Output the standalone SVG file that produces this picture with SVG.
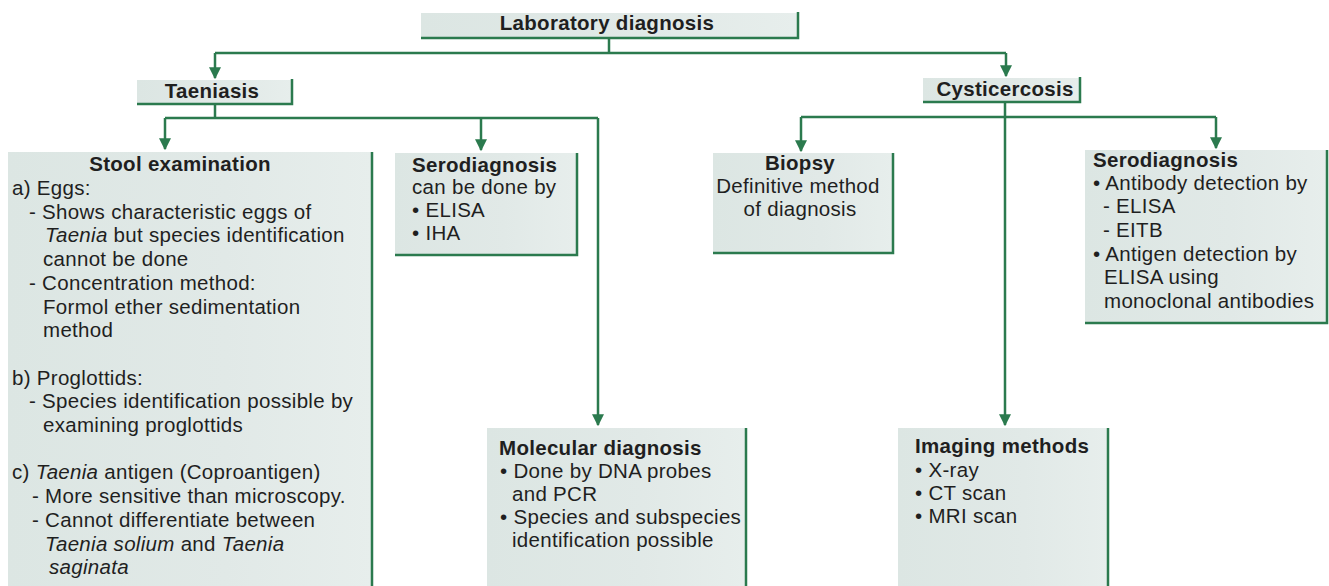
<svg xmlns="http://www.w3.org/2000/svg" width="1329" height="586" viewBox="0 0 1329 586">
<style>
text{font-family:"Liberation Sans",Arial,Helvetica,sans-serif;font-size:20.5px;fill:#1f1f1f;letter-spacing:0.3px}
.b{font-weight:bold}
.i{font-style:italic}
.c{text-anchor:middle}
.box{fill:url(#g)}
.bd{fill:none;stroke:#2b7a4e;stroke-width:2.5}
.cn{fill:none;stroke:#2b7a4e;stroke-width:2.5}
.ar{marker-end:url(#ah)}
</style>
<defs>
<linearGradient id="g" x1="0" y1="0" x2="1" y2="0">
<stop offset="0" stop-color="#dce6e3"/>
<stop offset="0.6" stop-color="#e1e9e7"/>
<stop offset="1" stop-color="#e7eeec"/>
</linearGradient>
<marker id="ah" viewBox="0 0 10 10" refX="9" refY="5" markerWidth="12" markerHeight="12" markerUnits="userSpaceOnUse" orient="auto">
<path d="M0,0 L10,5 L0,10 z" fill="#2b7a4e"/>
</marker>
</defs>
<rect width="1329" height="586" fill="#ffffff"/>

<g id="connectors">
<path class="cn" d="M609,38 V53"/>
<path class="cn" d="M215,53 H1006"/>
<path class="cn ar" d="M215,53 V78"/>
<path class="cn ar" d="M1006,53 V76"/>
<path class="cn" d="M215,104 V118"/>
<path class="cn" d="M165,118 H598"/>
<path class="cn ar" d="M165,118 V149"/>
<path class="cn ar" d="M481,118 V150"/>
<path class="cn ar" d="M598,118 V425"/>
<path class="cn" d="M801,117 H1216"/>
<path class="cn ar" d="M801,117 V151"/>
<path class="cn ar" d="M1216,117 V148"/>
<path class="cn ar" d="M1005,102 V425"/>
</g>

<g id="lab">
<rect class="box" x="421" y="13" width="377" height="25"/>
<path class="bd" d="M798,12 V38 H421"/>
<text class="b c" x="607" y="30">Laboratory diagnosis</text>
</g>

<g id="taeniasis">
<rect class="box" x="137" y="80" width="155" height="24"/>
<path class="bd" d="M292,79 V104 H137"/>
<text class="b c" x="212" y="98">Taeniasis</text>
</g>

<g id="cysticercosis">
<rect class="box" x="923" y="78" width="157" height="24"/>
<path class="bd" d="M1080,77 V102 H923"/>
<text class="b c" x="1005" y="96">Cysticercosis</text>
</g>

<g id="stool">
<rect class="box" x="8" y="152" width="364" height="440"/>
<path class="bd" d="M372,152 V590"/>
<text class="b c" x="180" y="171">Stool examination</text>
<text x="12" y="195">a) Eggs:</text>
<text x="29" y="218.7">- Shows characteristic eggs  of</text>
<text x="45" y="242.4"><tspan class="i">Taenia</tspan> but species identification</text>
<text x="43" y="266.1">cannot be done</text>
<text x="29" y="289.8">- Concentration method:</text>
<text x="43" y="313.5">Formol ether sedimentation</text>
<text x="43" y="337.2">method</text>
<text x="12" y="384.6">b) Proglottids:</text>
<text x="29" y="408.3">- Species identification possible by</text>
<text x="43" y="432">examining proglottids</text>
<text x="12" y="479.4">c) <tspan class="i">Taenia</tspan> antigen (Coproantigen)</text>
<text x="32" y="503.1">- More sensitive than microscopy.</text>
<text x="32" y="526.8">- Cannot differentiate between</text>
<text x="45" y="550.5"><tspan class="i">Taenia solium</tspan> and <tspan class="i">Taenia</tspan></text>
<text class="i" x="49" y="574.2">saginata</text>
</g>

<g id="sero-taeniasis">
<rect class="box" x="395" y="153" width="182" height="102"/>
<path class="bd" d="M577,153 V255 H395"/>
<text class="b" x="412" y="172">Serodiagnosis</text>
<text x="412" y="194">can be done by</text>
<text x="412" y="217">• ELISA</text>
<text x="412" y="240">• IHA</text>
</g>

<g id="molecular">
<rect class="box" x="487" y="428" width="259" height="162"/>
<path class="bd" d="M746,428 V590"/>
<text class="b" x="499" y="455">Molecular diagnosis</text>
<text x="500" y="478">• Done by DNA probes</text>
<text x="512" y="501">and PCR</text>
<text x="500" y="524">• Species and subspecies</text>
<text x="512" y="547">identification possible</text>
</g>

<g id="biopsy">
<rect class="box" x="713" y="153" width="180" height="100"/>
<path class="bd" d="M893,153 V253 H713"/>
<text class="b c" x="800" y="170">Biopsy</text>
<text class="c" x="798" y="193">Definitive method</text>
<text class="c" x="800" y="216">of diagnosis</text>
</g>

<g id="sero-cysticercosis">
<rect class="box" x="1085" y="150" width="242" height="173"/>
<path class="bd" d="M1327,150 V323 H1085"/>
<text class="b" x="1093" y="167">Serodiagnosis</text>
<text x="1093" y="190">• Antibody detection by</text>
<text x="1103" y="213">- ELISA</text>
<text x="1103" y="237">- EITB</text>
<text x="1093" y="261">• Antigen detection by</text>
<text x="1104" y="284">ELISA using</text>
<text x="1104" y="308">monoclonal antibodies</text>
</g>

<g id="imaging">
<rect class="box" x="898" y="428" width="210" height="162"/>
<path class="bd" d="M1108,428 V590"/>
<text class="b" x="915" y="453">Imaging methods</text>
<text x="915" y="477">• X-ray</text>
<text x="915" y="500">• CT scan</text>
<text x="915" y="523">• MRI scan</text>
</g>
</svg>
